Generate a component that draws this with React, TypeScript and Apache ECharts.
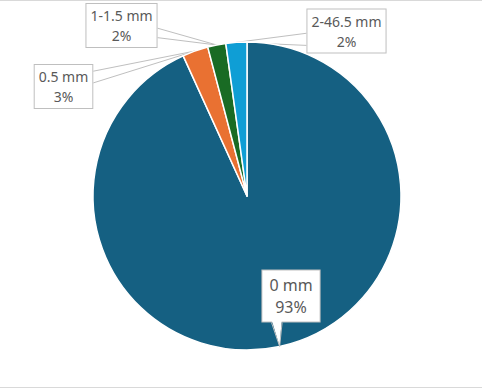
import React, { useEffect, useRef } from "react";
import * as echarts from "echarts";

const categories = ["0 mm", "0.5 mm", "1-1.5 mm", "2-46.5 mm"];
const shares = [93.2, 2.7, 1.9, 2.2];
const colors = ["#156082", "#E97132", "#196B24", "#0F9ED5"];

// label box centres (px) for each category
const labelCentres: [number, number][] = [
  [291, 296],
  [63.5, 86.5],
  [121.5, 25.5],
  [346.5, 31],
];
// callout wedge: side of the label box and the base span as fractions of that side
const wedges: { side: string; a: number; b: number }[] = [
  { side: "bottom", a: 0.17, b: 0.35 },
  { side: "right", a: 0.16, b: 0.42 },
  { side: "right", a: 0.56, b: 0.77 },
  { side: "left", a: 0.55, b: 0.82 },
];

function wedgeBase(i: number, lr: { width: number; height: number }) {
  const c = labelCentres[i];
  const w = lr.width, h = lr.height;
  const left = c[0] - w / 2, top = c[1] - h / 2;
  const wd = wedges[i];
  if (wd.side === "bottom") {
    return [[left + w * wd.a, top + h], [left + w * wd.b, top + h]];
  } else if (wd.side === "right") {
    return [[left + w, top + h * wd.a], [left + w, top + h * wd.b]];
  }
  return [[left, top + h * wd.a], [left, top + h * wd.b]];
}

export default function App() {
  const ref = useRef<HTMLDivElement>(null);
  useEffect(() => {
    document.body.style.margin = "0";
    const chart = echarts.init(ref.current!, null, { renderer: "svg" });
    const rects: any[] = [];
    const border = [
      { id: "bt", type: "line", shape: { x1: 0, y1: 0.5, x2: 482, y2: 0.5 }, style: { stroke: "#d9d9d9", lineWidth: 1 } },
      { id: "bb", type: "line", shape: { x1: 0, y1: 387.5, x2: 482, y2: 387.5 }, style: { stroke: "#d9d9d9", lineWidth: 1 } },
    ];
    chart.setOption({
      animation: false,
      backgroundColor: "#ffffff",
      textStyle: { fontFamily: "Noto Sans" },
      graphic: border,
      series: [
        {
          type: "pie",
          center: [247, 196],
          radius: [0, 154],
          startAngle: 90,
          clockwise: true,
          percentPrecision: 0,
          avoidLabelOverlap: false,
          itemStyle: { borderColor: "#ffffff", borderWidth: 1.5 },
          label: {
            show: true,
            position: "outside",
            formatter: "{b}\n{d}%",
            fontFamily: "Noto Sans",
            fontSize: 14,
            lineHeight: 20,
            color: "#595959",
            align: "center",
            backgroundColor: "#ffffff",
            borderColor: "#bfbfbf",
            borderWidth: 1,
            padding: [2, 4, 1, 4],
          },
          labelLine: {
            show: true,
            length: 10,
            length2: 0,
            smooth: false,
            lineStyle: { color: "#bfbfbf", width: 1 },
          },
          labelLayout: (params: any) => {
            const i = params.dataIndex;
            const c = labelCentres[i];
            const out: any = { x: c[0], y: c[1], align: "center", verticalAlign: "middle" };
            const lr = params.labelRect;
            rects[i] = lr;
            const pts = params.labelLinePoints;
            if (i > 0 && lr && pts && pts[0]) {
              const [p1, p2] = wedgeBase(i, lr);
              out.labelLinePoints = [p1, [pts[0][0], pts[0][1]], p2];
            }
            return out;
          },
          data: categories.map((name, i) => ({
            name,
            value: shares[i],
            itemStyle: { color: colors[i] },
            label: i === 0 ? { fontSize: 16, lineHeight: 22, padding: [4, 7, 3, 7] } : undefined,
            labelLine: i === 0 ? { show: false } : undefined,
          })),
        },
      ],
    });

    // callout pointer of the "0 mm" label, aimed at the slice's outer edge (from the pie's own layout)
    try {
      const data = (chart as any).getModel().getSeriesByIndex(0).getData();
      const lay = data.getItemLayout(0);
      const lr = rects[0];
      if (lay && lr) {
        const mid = (lay.startAngle + lay.endAngle) / 2;
        const tip = [lay.cx + lay.r * Math.cos(mid), lay.cy + lay.r * Math.sin(mid)];
        const [p1, p2] = wedgeBase(0, lr);
        chart.setOption({
          graphic: [
            ...border,
            {
              id: "ptrFill",
              type: "polygon",
              z: 100,
              shape: { points: [[p1[0] + 0.5, p1[1] - 1.5], tip, [p2[0] - 0.5, p2[1] - 1.5]] },
              style: { fill: "#ffffff", stroke: "none" },
            },
            {
              id: "ptrEdge",
              type: "polyline",
              z: 101,
              shape: { points: [p1, tip, p2] },
              style: { stroke: "#bfbfbf", lineWidth: 1, fill: "none" },
            },
          ],
        });
      }
    } catch (e) {
      // ignore
    }
    return () => chart.dispose();
  }, []);
  return <div ref={ref} style={{ width: 482, height: 389 }} />;
}
